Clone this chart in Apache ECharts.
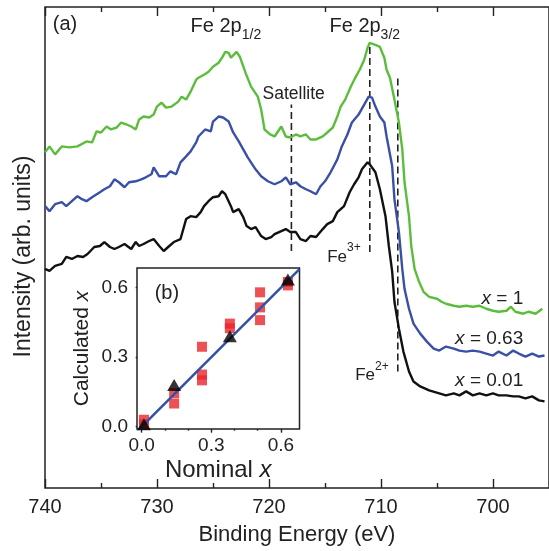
<!DOCTYPE html>
<html>
<head>
<meta charset="utf-8">
<script src="https://cdn.jsdelivr.net/npm/echarts@6/dist/echarts.min.js"></script>
<style>
  html, body { margin: 0; padding: 0; background: #fff; }
  #chart { width: 549px; height: 551px; }
</style>
</head>
<body>
<div id="chart"></div>
<script>
// ---- (a) Fe 2p XPS spectra: [binding energy (eV), intensity (arb. units)] ----
const spectrumX1 = [
  [740.0,337],[739.6,343],[739.1,335],[738.5,343],[737.8,342],[737.1,343],[736.3,348],[735.8,347],
  [735.4,358],[735.0,357],[734.5,363],[734.1,360],[733.6,362],[733.2,367],[732.7,365],[732.3,363],
  [731.9,360],[731.6,370],[731.2,373],[730.7,372],[730.3,375],[730.0,383],[729.6,387],[729.2,382],
  [728.7,383],[728.1,388],[727.8,393],[727.4,390],[727.0,398],[726.5,410],[726.3,412],[725.8,415],
  [725.4,418],[725.0,423],[724.5,427],[724.2,432],[723.9,438],[723.6,437],[723.4,432],[722.9,438],
  [722.6,433],[722.1,417],[721.6,403],[721.0,393],[720.7,380],[720.4,360],[719.9,355],[719.5,353],
  [718.9,363],[718.5,353],[718.1,352],[717.6,355],[717.2,353],[716.7,355],[716.3,350],[715.8,350],
  [715.2,353],[714.8,357],[714.3,362],[713.9,373],[713.6,383],[713.2,390],[712.7,403],[712.3,412],
  [711.9,420],[711.5,430],[711.2,442],[711.0,447],[710.5,445],[710.1,443],[709.7,432],[709.5,420],
  [709.2,412],[708.8,390],[708.4,367],[708.1,340],[707.9,307],[707.5,273],[707.3,243],[707.0,220],
  [706.6,207],[706.2,197],[705.7,192],[705.0,190],[704.6,187],[704.2,185],[703.5,183],[703.0,182],
  [702.4,183],[701.8,182],[701.2,183],[700.6,180],[700.0,178],[699.5,177],[698.8,178],[698.4,182],
  [698.0,177],[697.3,175],[696.8,177],[696.2,175],[695.6,180]
];
const spectrumX063 = [
  [740.0,283],[739.6,278],[739.1,285],[738.5,287],[738.1,283],[737.6,288],[737.1,293],[736.7,290],
  [736.3,288],[735.8,292],[735.1,297],[734.7,300],[734.2,303],[733.8,310],[733.4,307],[732.9,302],
  [732.5,307],[731.9,308],[731.4,310],[731.0,312],[730.5,315],[730.3,322],[729.8,313],[729.2,313],
  [728.8,318],[728.3,315],[727.9,327],[727.4,333],[727.0,338],[726.5,347],[726.3,353],[725.7,360],
  [725.2,358],[725.0,368],[724.5,373],[724.1,372],[723.6,368],[723.2,357],[722.7,348],[722.3,340],
  [721.9,332],[721.2,320],[720.7,313],[720.1,308],[719.5,305],[718.9,308],[718.5,312],[718.1,305],
  [717.6,307],[717.2,303],[716.7,300],[716.3,298],[715.8,295],[715.4,303],[715.0,308],[714.5,317],
  [713.9,330],[713.5,343],[713.0,355],[712.6,367],[712.0,375],[711.5,385],[711.1,393],[710.8,392],
  [710.5,383],[710.1,373],[709.7,367],[709.5,353],[709.0,323],[708.8,290],[708.4,257],[708.1,220],
  [707.9,200],[707.5,180],[707.1,165],[706.5,155],[705.9,147],[705.3,140],[704.8,138],[704.2,142],
  [703.5,140],[703.0,138],[702.4,137],[701.8,138],[701.2,137],[700.6,135],[700.0,133],[699.5,137],
  [698.8,133],[698.2,138],[697.7,135],[697.1,132],[696.5,135],[695.9,132],[695.4,133]
];
const spectrumX001 = [
  [740.0,220],[739.6,218],[739.1,223],[738.5,225],[738.1,232],[737.6,230],[737.1,233],[736.6,232],
  [736.2,235],[735.6,242],[735.1,243],[734.7,247],[734.2,242],[733.8,240],[733.4,242],[732.9,245],
  [732.3,240],[731.9,247],[731.6,243],[731.2,245],[730.7,248],[730.3,250],[729.8,243],[729.4,238],
  [728.9,243],[728.5,247],[727.9,250],[727.4,270],[727.0,273],[726.5,272],[726.1,277],[725.8,283],
  [725.4,288],[725.0,292],[724.5,293],[724.2,298],[723.9,295],[723.4,283],[723.2,277],[722.7,280],
  [722.3,272],[722.0,263],[721.6,260],[721.2,262],[720.7,253],[720.3,250],[719.8,252],[719.5,255],
  [718.9,258],[718.5,260],[718.1,257],[717.6,257],[717.2,250],[716.7,248],[716.3,253],[715.8,252],
  [715.2,260],[714.8,265],[714.3,268],[713.9,277],[713.3,283],[712.8,297],[712.4,305],[712.0,312],
  [711.7,320],[711.2,327],[711.0,325],[710.5,317],[710.1,300],[709.6,273],[709.3,243],[709.0,217],
  [708.8,187],[708.4,160],[708.0,137],[707.5,117],[707.1,107],[706.5,102],[705.7,98],[704.8,95],
  [704.2,93],[703.5,95],[703.0,93],[702.4,97],[701.8,93],[701.2,95],[700.6,93],[700.0,95],
  [699.5,93],[698.8,93],[698.2,92],[697.7,92],[697.1,90],[696.5,92],[695.9,88],[695.4,87]
];

// Dashed reference lines: energy (eV) and intensity span
const markerEnergy = [718.0, 711.0, 708.5];
const markerFrom   = [238, 237, 117];
const markerTo     = [385, 447, 413];

// Energy axis ticks
const energyMajor = [740, 730, 720, 710, 700];
const energyMinor = [735, 725, 715, 705];

// ---- (b) calculated vs nominal composition ----
const squaresNominal    = [0.01, 0.01, 0.14, 0.14, 0.26, 0.26, 0.26, 0.38, 0.38, 0.51, 0.51, 0.51, 0.63, 0.63];
const squaresCalculated = [0.03, 0.01, 0.145, 0.10, 0.345, 0.225, 0.20, 0.445, 0.425, 0.58, 0.515, 0.46, 0.625, 0.61];
const trianglesNominal    = [0.01, 0.14, 0.38, 0.63];
const trianglesCalculated = [0.01, 0.18, 0.39, 0.635];
const fitSlope = 1.0;
const fitIntercept = 0.0;
const compMajor = [0, 0.3, 0.6];
const compMinor = [0.1, 0.2, 0.4, 0.5];

// ---------------------------------------------------------------------------
const FONT = '"Liberation Sans", Arial, Helvetica, sans-serif';
const INK = '#222';
const zip = (a, b) => a.map((v, i) => [v, b[i]]);

const E_MIN = 695, E_MAX = 740, I_MIN = 0, I_MAX = 483;
const C_XMIN = -0.02, C_XMAX = 0.68, C_YMIN = -0.01, C_YMAX = 0.685;

function tickAxis(base, values, len, labels) {
  return Object.assign({
    type: 'value',
    axisLine: { show: false },
    splitLine: { show: false },
    axisTick: { show: true, inside: true, length: len, customValues: values,
                lineStyle: { color: INK, width: 1.4 } },
    axisLabel: { show: false }
  }, base, labels ? { axisLabel: labels } : {});
}

const energyBase = { gridIndex: 0, min: E_MIN, max: E_MAX, inverse: true };
const compXBase = { gridIndex: 1, min: C_XMIN, max: C_XMAX };
const compYBase = { gridIndex: 1, min: C_YMIN, max: C_YMAX };

const compLabel = {
  show: true, customValues: compMajor, fontSize: 19, fontFamily: FONT, color: INK,
  formatter: v => v.toFixed(1)
};

const option = {
  animation: false,
  backgroundColor: '#fff',
  textStyle: { fontFamily: FONT },
  grid: [
    { left: 45, top: 7, right: -4, bottom: 61, show: true, borderColor: INK, borderWidth: 1.5,
      backgroundColor: 'transparent' },
    { left: 137, top: 268, width: 162.5, height: 161, show: true, borderColor: INK, borderWidth: 1.5,
      backgroundColor: '#fff', z: 5 }
  ],
  xAxis: [
    tickAxis(Object.assign({ position: 'bottom',
      name: 'Binding Energy (eV)', nameLocation: 'middle', nameGap: 36,
      nameTextStyle: { fontSize: 22, color: INK, fontFamily: FONT } }, energyBase),
      energyMajor, 9,
      { show: true, customValues: energyMajor, fontSize: 20, margin: 9, color: INK, fontFamily: FONT }),
    tickAxis(Object.assign({ position: 'bottom' }, energyBase), energyMinor, 5),
    tickAxis(Object.assign({ position: 'top' }, energyBase), energyMajor, 9),
    tickAxis(Object.assign({ position: 'top' }, energyBase), energyMinor, 5),
    tickAxis(Object.assign({ position: 'bottom',
      name: 'Nominal {i|x}', nameLocation: 'middle', nameGap: 29,
      nameTextStyle: { fontSize: 24, color: INK, fontFamily: FONT,
        rich: { i: { fontSize: 24, fontStyle: 'italic', color: INK, fontFamily: FONT } } } }, compXBase),
      compMajor, 6, Object.assign({ margin: 7 }, compLabel)),
    tickAxis(Object.assign({ position: 'bottom' }, compXBase), compMinor, 4),
    tickAxis(Object.assign({ position: 'top' }, compXBase), compMajor, 6),
    tickAxis(Object.assign({ position: 'top' }, compXBase), compMinor, 4)
  ],
  yAxis: [
    { type: 'value', gridIndex: 0, min: I_MIN, max: I_MAX, position: 'left',
      axisLine: { show: false }, axisTick: { show: false }, axisLabel: { show: false },
      splitLine: { show: false },
      name: 'Intensity (arb. units)', nameLocation: 'middle', nameGap: 10,
      nameTextStyle: { fontSize: 23, color: INK, fontFamily: FONT, padding: [0, 18, 0, 0] } },
    tickAxis(Object.assign({ position: 'left',
      name: 'Calculated {i|x}', nameLocation: 'middle', nameGap: 44,
      nameTextStyle: { fontSize: 21, color: INK, fontFamily: FONT,
        rich: { i: { fontSize: 21, fontStyle: 'italic', color: INK, fontFamily: FONT } } } }, compYBase),
      compMajor, 6, Object.assign({ margin: 9 }, compLabel)),
    tickAxis(Object.assign({ position: 'left' }, compYBase), compMinor, 4),
    tickAxis(Object.assign({ position: 'right' }, compYBase), compMajor, 6),
    tickAxis(Object.assign({ position: 'right' }, compYBase), compMinor, 4)
  ],
  series: [
    { name: 'x = 1', type: 'line', xAxisIndex: 0, yAxisIndex: 0, data: spectrumX1,
      showSymbol: false, lineStyle: { color: '#5cbd3c', width: 2.4 }, z: 3 },
    { name: 'x = 0.63', type: 'line', xAxisIndex: 0, yAxisIndex: 0, data: spectrumX063,
      showSymbol: false, lineStyle: { color: '#3a4fa6', width: 2.4 }, z: 3 },
    { name: 'x = 0.01', type: 'line', xAxisIndex: 0, yAxisIndex: 0, data: spectrumX001,
      showSymbol: false, lineStyle: { color: '#111', width: 2.4 }, z: 3 }
  ].concat(markerEnergy.map((e, k) => ({
      type: 'line', xAxisIndex: 0, yAxisIndex: 0, showSymbol: false, silent: true,
      data: [[e, markerFrom[k]], [e, markerTo[k]]],
      lineStyle: { color: INK, width: 1.6, type: [7, 4] }, z: 2
    }))).concat([
    { name: 'squares', type: 'scatter', xAxisIndex: 4, yAxisIndex: 1,
      data: zip(squaresNominal, squaresCalculated), symbol: 'rect', symbolSize: 10,
      itemStyle: { color: '#e8262b' }, z: 6 },
    { name: 'fit', type: 'line', xAxisIndex: 4, yAxisIndex: 1, showSymbol: false,
      data: [C_XMIN, C_XMAX].map(x => [x, fitSlope * x + fitIntercept]),
      lineStyle: { color: '#3050aa', width: 2.5 }, clip: true, z: 7 },
    { name: 'triangles', type: 'scatter', xAxisIndex: 4, yAxisIndex: 1,
      data: zip(trianglesNominal, trianglesCalculated), symbol: 'triangle', symbolSize: [14, 12],
      itemStyle: { color: '#000' }, z: 8 }
  ])
};

const chart = echarts.init(document.getElementById('chart'), null, { renderer: 'canvas' });
chart.setOption(option);

// ---- text annotations anchored in data coordinates ----
const measure = document.createElement('canvas').getContext('2d');
function textWidth(str, size, italic) {
  measure.font = (italic ? 'italic ' : '') + size + 'px ' + FONT;
  return measure.measureText(str).width;
}
// parts: {t, size, dy, italic}; anchor is [x, y] in the coordinates of the given series
function annotate(seriesIndex, anchor, parts, align) {
  const p = chart.convertToPixel({ seriesIndex }, anchor);
  const total = parts.reduce((s, q) => s + textWidth(q.t, q.size, q.italic), 0);
  let x = align === 'right' ? p[0] - total : align === 'center' ? p[0] - total / 2 : p[0];
  return parts.map(q => {
    const el = {
      type: 'text', x: x, y: p[1] + (q.dy || 0), z: 100,
      style: { text: q.t, fontSize: q.size, fontFamily: FONT, fontStyle: q.italic ? 'italic' : 'normal',
               fill: INK, align: 'left', verticalAlign: 'middle' }
    };
    x += textWidth(q.t, q.size, q.italic);
    return el;
  });
}

const SPEC = 0, INSET = 6;
const graphics = [].concat(
  annotate(SPEC, [739.3, 465], [{ t: '(a)', size: 20 }], 'left'),
  annotate(SPEC, [727.0, 463], [{ t: 'Fe 2p', size: 20 }, { t: '1/2', size: 14, dy: 8 }], 'left'),
  annotate(SPEC, [714.6, 463], [{ t: 'Fe 2p', size: 20 }, { t: '3/2', size: 14, dy: 8 }], 'left'),
  annotate(SPEC, [717.8, 395], [{ t: 'Satellite', size: 17.5 }], 'center'),
  annotate(SPEC, [714.8, 232], [{ t: 'Fe', size: 17 }, { t: '3+', size: 12, dy: -9 }], 'left'),
  annotate(SPEC, [712.3, 113], [{ t: 'Fe', size: 17 }, { t: '2+', size: 12, dy: -9 }], 'left'),
  annotate(SPEC, [697.3, 190], [{ t: 'x', size: 19, italic: true }, { t: ' = 1', size: 19 }], 'right'),
  annotate(SPEC, [697.3, 150], [{ t: 'x', size: 19, italic: true }, { t: ' = 0.63', size: 19 }], 'right'),
  annotate(SPEC, [697.3, 108], [{ t: 'x', size: 19, italic: true }, { t: ' = 0.01', size: 19 }], 'right'),
  annotate(INSET, [0.056, 0.575], [{ t: '(b)', size: 20 }], 'left')
);
chart.setOption({ graphic: graphics });
</script>
</body>
</html>
